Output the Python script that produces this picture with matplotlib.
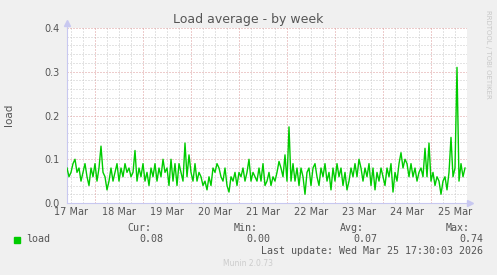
import numpy as np
import matplotlib
matplotlib.use('Agg')
import matplotlib.pyplot as plt
from matplotlib.patches import Rectangle

# load average, one sample per hour, first sample at 17 Mar 09:51
start_hour = 9.85
load = [
    # 17 Mar
    0.08, 0.06, 0.07, 0.09, 0.10, 0.07, 0.08, 0.05, 0.07, 0.09, 0.06, 0.04, 0.08, 0.06,
    # 18 Mar
    0.09, 0.05, 0.08, 0.13, 0.07, 0.06, 0.03, 0.05, 0.08, 0.05, 0.07, 0.09,
    0.05, 0.08, 0.06, 0.09, 0.07, 0.08, 0.06, 0.07, 0.12, 0.05, 0.08, 0.06,
    # 19 Mar
    0.09, 0.05, 0.07, 0.04, 0.08, 0.06, 0.09, 0.05, 0.08, 0.06, 0.10, 0.07,
    0.08, 0.04, 0.10, 0.05, 0.09, 0.04, 0.09, 0.07, 0.05, 0.137, 0.06, 0.11,
    # 20 Mar
    0.07, 0.05, 0.09, 0.05, 0.07, 0.06, 0.04, 0.05, 0.03, 0.06, 0.04, 0.08,
    0.07, 0.09, 0.08, 0.06, 0.05, 0.08, 0.04, 0.025, 0.06, 0.05, 0.07, 0.04,
    # 21 Mar
    0.07, 0.06, 0.08, 0.05, 0.07, 0.10, 0.05, 0.07, 0.06, 0.05, 0.08, 0.05,
    0.09, 0.04, 0.05, 0.07, 0.04, 0.06, 0.05, 0.07, 0.095, 0.08, 0.06, 0.11,
    # 22 Mar
    0.05, 0.174, 0.05, 0.09, 0.05, 0.08, 0.04, 0.08, 0.06, 0.02, 0.07, 0.08,
    0.04, 0.08, 0.09, 0.06, 0.04, 0.08, 0.06, 0.09, 0.05, 0.07, 0.03, 0.08,
    # 23 Mar
    0.05, 0.09, 0.06, 0.08, 0.04, 0.07, 0.03, 0.05, 0.08, 0.06, 0.09, 0.06,
    0.10, 0.08, 0.05, 0.08, 0.06, 0.09, 0.04, 0.08, 0.03, 0.07, 0.05, 0.08,
    # 24 Mar
    0.06, 0.04, 0.08, 0.06, 0.09, 0.025, 0.07, 0.05, 0.09, 0.115, 0.08, 0.10,
    0.09, 0.06, 0.09, 0.06, 0.08, 0.05, 0.07, 0.08, 0.06, 0.125, 0.06, 0.137,
    # 25 Mar
    0.05, 0.07, 0.04, 0.06, 0.05, 0.02, 0.05, 0.06, 0.03, 0.07, 0.15, 0.06,
    0.08, 0.31, 0.05, 0.09, 0.06, 0.08,
]
day_labels = ['17 Mar', '18 Mar', '19 Mar', '20 Mar', '21 Mar',
              '22 Mar', '23 Mar', '24 Mar', '25 Mar']
y_ticks = [0.0, 0.1, 0.2, 0.3, 0.4]
stats_names = ['Cur:', 'Min:', 'Avg:', 'Max:']
stats_values = ['0.08', '0.00', '0.07', '0.74']

hours = start_hour + np.arange(len(load))

W, H = 497, 275
fig = plt.figure(figsize=(W / 100, H / 100), dpi=100, facecolor='#F0F0F0')
ax = fig.add_axes([67 / W, 1 - 203 / H, 400 / W, 175 / H])
ax.set_facecolor('white')

x0, x1 = start_hour, start_hour + 200
ax.set_xlim(x0, x1)
ax.set_ylim(0, 0.4)

dot = (0, (1, 2))
# minor grid
for h in np.arange(6, 210, 6):
    if h % 24:
        ax.axvline(h, color='#c8c8c8', lw=0.72, ls=dot, zorder=1)
for v in np.arange(0.02, 0.4, 0.02):
    if abs(v * 10 - round(v * 10)) > 1e-6:
        ax.axhline(v, color='#c8c8c8', lw=0.72, ls=dot, zorder=1)
# major grid
for h in range(24, 210, 24):
    ax.axvline(h, color='#dc9a9a', lw=0.72, ls=dot, zorder=1)
for v in y_ticks[1:]:
    ax.axhline(v, color='#dc9a9a', lw=0.72, ls=dot, zorder=1)

ax.plot(hours, load, color='#00CC00', lw=1.0, zorder=3)

ax.set_xticks([12 + 24 * i for i in range(len(day_labels))])
ax.set_xticklabels(day_labels)
ax.set_yticks(y_ticks)
ax.set_yticklabels(['%.1f' % v for v in y_ticks])
ax.tick_params(length=0, labelsize=7, labelcolor='#555555')
ax.tick_params(axis='x', pad=3)
ax.tick_params(axis='y', pad=5)

for s in ['top', 'right']:
    ax.spines[s].set_visible(False)
for s in ['left', 'bottom']:
    ax.spines[s].set_color('#c8c8f0')
    ax.spines[s].set_linewidth(0.8)
ax.plot([0, 0], [1, 1.03], color='#c8c8f0', lw=0.8, transform=ax.transAxes, clip_on=False)
ax.plot([1, 1.008], [0, 0], color='#c8c8f0', lw=0.8, transform=ax.transAxes, clip_on=False)
ax.plot(0, 1.03, marker='^', ms=4, color='#c8c8f0', transform=ax.transAxes, clip_on=False)
ax.plot(1.008, 0, marker='>', ms=4, color='#c8c8f0', transform=ax.transAxes, clip_on=False)


def px(x, y):
    return x / W, 1 - y / H


fig.text(*px(248, 19), 'Load average - by week', ha='center', va='center',
         fontsize=9, color='#555555')
fig.text(*px(9, 115), 'load', ha='center', va='center', rotation=90,
         fontsize=7.5, color='#555555')
fig.text(*px(488, 54), 'RRDTOOL / TOBI OETIKER', ha='center', va='center',
         rotation=270, fontsize=5, color='#c8c8c8')

mono = dict(family='DejaVu Sans Mono', fontsize=7.2, color='#555555', va='center')
fig.patches.append(Rectangle(px(14, 243), 6 / W, 6 / H, color='#00CC00',
                             transform=fig.transFigure))
fig.text(*px(26, 239), 'load', ha='left', **mono)
name_right = [151, 258, 364, 470]
value_right = [163, 270, 377, 483]
for name, nx, val, vx in zip(stats_names, name_right, stats_values, value_right):
    fig.text(*px(nx, 228), name, ha='right', **mono)
    fig.text(*px(vx, 239), val, ha='right', **mono)
fig.text(*px(483, 251), 'Last update: Wed Mar 25 17:30:03 2026', ha='right', **mono)
fig.text(*px(248, 264), 'Munin 2.0.73', ha='center', va='center',
         fontsize=5.5, color='#cccccc')

fig.savefig('out.png', dpi=100, facecolor=fig.get_facecolor())
